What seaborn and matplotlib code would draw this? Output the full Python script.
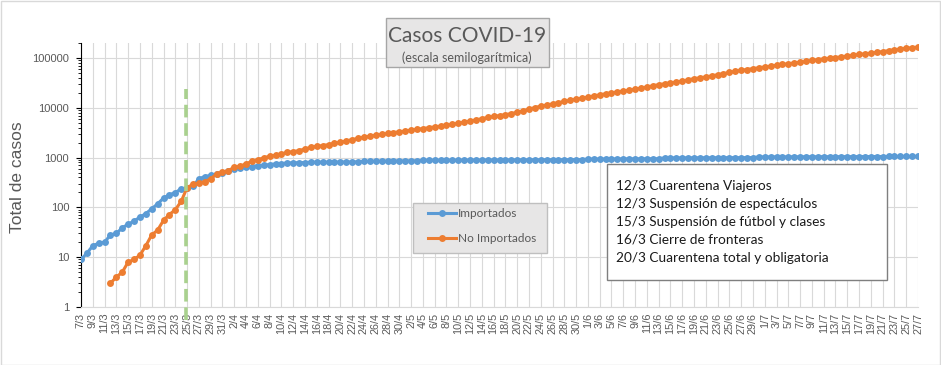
import matplotlib
matplotlib.use("Agg")
import matplotlib.pyplot as plt
import seaborn as sns
import numpy as np
import pandas as pd
from matplotlib.patches import Rectangle
from matplotlib.lines import Line2D
from matplotlib.ticker import FixedLocator, LogLocator, NullFormatter

# categorias: un dia por punto, del 7/3 al 27/7
fechas = pd.date_range("2020-03-07", "2020-07-27", freq="D")
etiquetas = [f"{d.day}/{d.month}" for d in fechas]

importados = [
    9, 12, 17, 19, 20, 28, 30, 39, 46, 53,
    64, 75, 94, 118, 154, 179, 199, 236, 244, 267,
    374, 417, 437, 471, 493, 533, 593, 611, 641, 661,
    692, 703, 725, 747, 758, 782, 782, 794, 794, 807,
    807, 807, 810, 810, 812, 815, 818, 820, 840, 845,
    848, 850, 852, 855, 857, 858, 860, 862, 880, 881,
    882, 884, 885, 887, 888, 890, 891, 892, 894, 895,
    896, 897, 898, 899, 900, 901, 902, 903, 904, 905,
    906, 907, 908, 909, 910, 911, 935, 937, 938, 940,
    941, 942, 943, 944, 945, 946, 947, 948, 950, 985,
    986, 987, 988, 989, 990, 991, 992, 993, 994, 995,
    996, 997, 998, 999, 1000, 1030, 1031, 1032, 1033, 1034,
    1035, 1036, 1037, 1038, 1039, 1040, 1041, 1042, 1043, 1044,
    1045, 1046, 1047, 1048, 1049, 1050, 1051, 1052, 1053, 1054,
    1055, 1056, 1057,
]

no_importados = [
    np.nan, np.nan, np.nan, np.nan, np.nan, 3, 4, 5, 8, 9,
    11, 17, 28, 35, 55, 72, 90, 132, 250, 290,
    305, 331, 374, 471, 509, 550, 641, 671, 747, 845,
    912, 985, 1064, 1114, 1184, 1278, 1318, 1380, 1490, 1610,
    1686, 1738, 1820, 1920, 2030, 2150, 2300, 2420, 2560, 2690,
    2800, 2920, 3050, 3170, 3290, 3410, 3540, 3680, 3820, 3950,
    4100, 4250, 4450, 4650, 4900, 5140, 5420, 5700, 6040, 6390,
    6700, 6950, 7250, 7650, 8100, 8700, 9400, 10100, 10800, 11350,
    11950, 12650, 13400, 14100, 14900, 15500, 16400, 17300, 18200, 19100,
    19900, 20900, 21700, 22500, 23600, 24800, 26200, 27600, 29100, 30400,
    31600, 33000, 34400, 36300, 38400, 40000, 41600, 43700, 46000, 48600,
    51200, 54000, 56500, 58700, 61000, 63300, 66000, 68700, 71500, 74100,
    76600, 79200, 82200, 85700, 89300, 92700, 96100, 98800, 101900, 105500,
    109700, 113300, 117800, 121000, 125200, 129200, 134500, 140200, 146300, 151800,
    156500, 160700, 165500,
]

series = ["Importados", "No Importados"]
colores = {"Importados": "#5b9bd5", "No Importados": "#ed7d31"}

eventos = [
    "12/3 Cuarentena Viajeros",
    "12/3 Suspensión de espectáculos",
    "15/3 Suspensión de fútbol y clases",
    "16/3 Cierre de fronteras",
    "20/3 Cuarentena total y obligatoria",
]

W, H = 941, 365
def fx(px):
    return px / W
def fy(py):
    return 1 - py / H

gris = "#595959"
texto = ["Lato", "DejaVu Sans"]
ejes = ["Liberation Sans", "DejaVu Sans"]

df = pd.DataFrame({"dia": np.arange(len(fechas)),
                   "Importados": importados,
                   "No Importados": no_importados})
largo = df.melt(id_vars="dia", var_name="serie", value_name="casos").dropna()

fig = plt.figure(figsize=(W / 100, H / 100), dpi=100)
ax = fig.add_axes([fx(81), fy(307), (918 - 81) / W, (307 - 43) / H])
ax.set_yscale("log")

sns.lineplot(data=largo, x="dia", y="casos", hue="serie", hue_order=series,
             palette=colores, marker="o", markersize=5, markeredgewidth=0,
             linewidth=2.2, errorbar=None, legend=False, ax=ax, zorder=3)

ax.set_xlim(0, len(fechas) - 1)
ax.set_ylim(1, 2e5)

# eje y
mayores = [1, 10, 100, 1000, 10000, 100000]
ax.yaxis.set_major_locator(FixedLocator(mayores))
ax.set_yticklabels([str(v) for v in mayores], fontsize=8, color=gris, family=ejes)
ax.yaxis.set_minor_locator(LogLocator(base=10, subs=np.arange(2, 10)))
ax.yaxis.set_minor_formatter(NullFormatter())
ax.tick_params(axis="y", which="major", length=3.5, width=0.8, color="black", pad=5)
ax.tick_params(axis="y", which="minor", length=2, width=0.6, color="black")

# eje x
ax.set_xticks(np.arange(0, len(fechas), 2))
ax.set_xticklabels(etiquetas[::2], rotation=90, fontsize=7.8, color=gris, family=ejes)
ax.tick_params(axis="x", length=0, pad=4)
ax.set_xlabel("")
ax.set_ylabel("")

ax.grid(True, which="major", color="#d9d9d9", linewidth=0.8)
ax.set_axisbelow(True)
for lado in ["top", "right"]:
    ax.spines[lado].set_visible(False)
ax.spines["left"].set_color("black")
ax.spines["left"].set_linewidth(0.8)
ax.spines["bottom"].set_color("#d9d9d9")
ax.spines["bottom"].set_linewidth(0.8)

# linea vertical verde (25/3)
ax.add_line(Line2D([17.8, 17.8], [0.55, 24000], color="#a9d18e", linewidth=2.6,
                   dashes=(3.5, 1.6), clip_on=False, zorder=5))

fig.text(fx(18), fy(177), "Total de casos", rotation=90, fontsize=12.5,
         color=gris, ha="center", va="center", family=ejes)

# titulo en recuadro
fig.patches.append(Rectangle((fx(386), fy(67)), fx(549) - fx(386), fy(18) - fy(67),
                             transform=fig.transFigure, facecolor="#e7e6e6",
                             edgecolor="#a6a6a6", linewidth=1))
fig.text(fx(467), fy(36), "Casos COVID-19", fontsize=15, color=gris,
         ha="center", va="center", family=texto)
fig.text(fx(467), fy(58), "(escala semilogarítmica)", fontsize=9, color=gris,
         ha="center", va="center", family=texto)

# leyenda
fig.patches.append(Rectangle((fx(413), fy(253)), fx(547) - fx(413), fy(203) - fy(253),
                             transform=fig.transFigure, facecolor="#e7e6e6",
                             edgecolor="#bfbfbf", linewidth=1))
manijas = [Line2D([], [], color=colores[s], marker="o", markersize=5,
                  markeredgewidth=0, linewidth=2.2) for s in series]
fig.legend(manijas, series, loc="upper left", bbox_to_anchor=(fx(428), fy(208)),
           frameon=False, borderpad=0, borderaxespad=0, handlelength=2.4,
           handletextpad=0.15, labelspacing=1.2,
           prop={"family": texto, "size": 8.5}, labelcolor=gris)

# recuadro de medidas
fig.patches.append(Rectangle((fx(607), fy(280)), fx(887) - fx(607), fy(164) - fy(280),
                             transform=fig.transFigure, facecolor="white",
                             edgecolor="#7f7f7f", linewidth=1))
for k, ev in enumerate(eventos):
    fig.text(fx(616), fy(186 + 18 * k), ev, fontsize=9.8, color="#1a1a1a",
             ha="left", va="center", family=texto)

# borde exterior
fig.patches.append(Rectangle((fx(0.5), fy(364.5)), fx(940) - fx(0.5), fy(0.5) - fy(364.5),
                             transform=fig.transFigure, facecolor="none",
                             edgecolor="#d9d9d9", linewidth=1))

fig.savefig("out.png", dpi=100)
